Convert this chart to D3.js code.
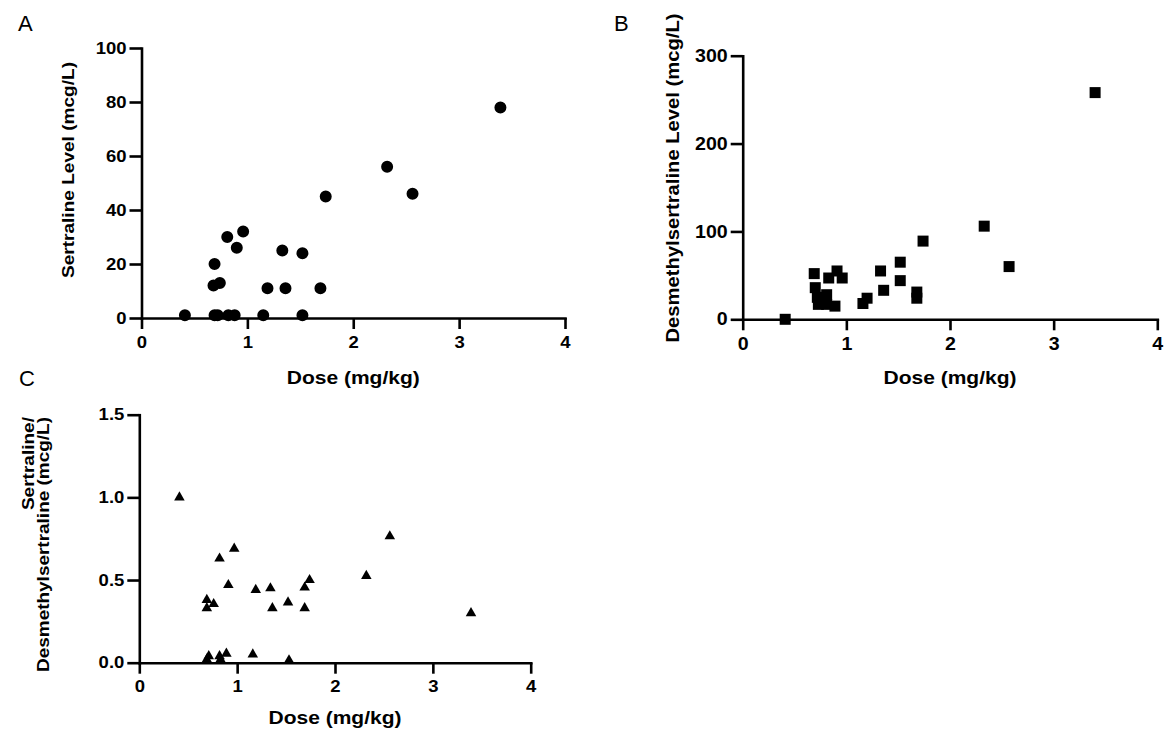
<!DOCTYPE html>
<html>
  <head>
    <title></title>
    <meta charset="utf-8">
    <script src="https://d3js.org/d3.v7.min.js"></script>
    <style>
      body {
        margin: 0;
        background: #fff;
      }
      svg {
        display: block;
        font-family: "Liberation Sans", Arial, sans-serif;
      }
      .axis path, .axis line {
        stroke: #000;
        stroke-width: 2.6px;
      }
      .axis text {
        font-weight: bold;
        fill: #000;
        font-family: "Liberation Sans", Arial, sans-serif;
      }
      .title {
        font-weight: bold;
      }
      .letter {
        font-size: 22px;
      }
    </style>
  </head>
  <body>
    <svg id="chart" width="1167" height="732"></svg>
    <script>
      // panel A - sertraline
      let doseA = [0.41, 0.68, 0.74, 0.69, 0.69, 0.72, 0.81, 0.90, 0.96, 0.82, 0.88, 1.15, 1.19, 1.33, 1.36, 1.52, 1.52, 1.69, 1.74, 2.32, 2.56, 3.39]
      let sertraline = [1, 12, 13, 20, 1, 1, 30, 26, 32, 1, 1, 1, 11, 25, 11, 24, 1, 11, 45, 56, 46, 78]

      // panel B - desmethylsertraline
      let doseB = [0.41, 0.69, 0.91, 0.96, 0.83, 0.70, 0.72, 0.73, 0.81, 0.81, 0.89, 1.16, 1.20, 1.33, 1.36, 1.52, 1.52, 1.68, 1.68, 1.74, 2.33, 2.57, 3.40]
      let desmethyl = [0, 52, 55, 47, 47, 36, 25, 17, 17, 28, 15, 18, 24, 55, 33, 65, 44, 31, 24, 89, 106, 60, 258]

      // panel C - ratio
      let doseC = [0.41, 0.69, 0.69, 0.76, 0.82, 0.97, 0.91, 1.19, 1.34, 1.36, 1.52, 1.69, 1.74, 1.69, 2.32, 2.56, 3.39, 0.71, 0.69, 0.82, 0.83, 0.89, 1.16, 1.53]
      let ratio = [1.0, 0.38, 0.33, 0.355, 0.63, 0.69, 0.47, 0.44, 0.45, 0.33, 0.365, 0.455, 0.50, 0.33, 0.525, 0.765, 0.30, 0.04, 0.02, 0.04, 0.02, 0.055, 0.05, 0.015]

      let doseTicks = [0, 1, 2, 3, 4]
      let ticksA = [0, 20, 40, 60, 80, 100]
      let ticksB = [0, 100, 200, 300]
      let ticksC = [0, 0.5, 1.0, 1.5]

      let svg = d3.select('#chart')

      // the figure's bold text is wider than Liberation, stretch it
      function stretch(sel, k) {
        sel.each(function() {
          let w = this.getComputedTextLength()
          d3.select(this).attr('textLength', w * k).attr('lengthAdjust', 'spacingAndGlyphs')
        })
      }
      function fitTo(sel, len) {
        sel.attr('textLength', len).attr('lengthAdjust', 'spacingAndGlyphs')
      }

      function panel(opt) {
        let x = d3.scaleLinear().domain([0, 4]).range(opt.xr)
        let y = d3.scaleLinear().domain(opt.yd).range(opt.yr)
        let g = svg.append('g')

        g.append('g')
          .attr('class', 'axis')
          .attr('transform', `translate(0,${opt.yr[0]})`)
          .call(d3.axisBottom(x).tickValues(doseTicks).tickSize(11).tickPadding(7).tickSizeOuter(0).tickFormat(d3.format('d')))
        g.append('g')
          .attr('class', 'axis')
          .attr('transform', `translate(${opt.xr[0]},0)`)
          .call(d3.axisLeft(y).tickValues(opt.ticks).tickSize(12).tickPadding(3).tickSizeOuter(0).tickFormat(opt.fmt))

        g.selectAll('.axis text').attr('font-size', opt.fs)
        stretch(g.selectAll('.axis text'), 1.12)
        g.selectAll('.axis path').attr('stroke-linecap', 'square')

        let pts = opt.xs.map((d, i) => [d, opt.ys[i]])
        g.selectAll('.pt')
          .data(pts)
          .join('path')
            .attr('class', 'pt')
            .attr('fill', '#000')
            .attr('transform', d => `translate(${x(d[0])},${y(d[1])})`)
            .attr('d', d3.symbol().type(opt.symbol).size(opt.size))

        g.append('text')
          .attr('class', 'title')
          .attr('font-size', 17.5)
          .attr('text-anchor', 'middle')
          .attr('x', (opt.xr[0] + opt.xr[1]) / 2)
          .attr('y', opt.xtitleY)
          .text('Dose (mg/kg)')
          .call(fitTo, 133)
        return g
      }

      let gA = panel({
        xr: [141.5, 565], yd: [0, 100], yr: [318, 48], ticks: ticksA, fmt: d3.format('d'), fs: 16.5,
        xs: doseA, ys: sertraline, symbol: d3.symbolCircle, size: 113, xtitleY: 384
      })
      gA.append('text')
        .attr('class', 'title')
        .attr('font-size', 17)
        .attr('text-anchor', 'middle')
        .attr('transform', 'translate(74,170) rotate(-90)')
        .text('Sertraline Level (mcg/L)')
        .call(fitTo, 216)

      let gB = panel({
        xr: [742.7, 1157.3], yd: [0, 300], yr: [319.3, 55.7], ticks: ticksB, fmt: d3.format('d'), fs: 17.5,
        xs: doseB, ys: desmethyl, symbol: d3.symbolSquare, size: 121, xtitleY: 384
      })
      gB.append('text')
        .attr('class', 'title')
        .attr('font-size', 17.5)
        .attr('text-anchor', 'middle')
        .attr('transform', 'translate(679,178) rotate(-90)')
        .text('Desmethylsertraline Level (mcg/L)')
        .call(fitTo, 329)

      let gC = panel({
        xr: [139.3, 530.7], yd: [0, 1.5], yr: [662.7, 414.7], ticks: ticksC, fmt: d3.format('.1f'), fs: 16.5,
        xs: doseC, ys: ratio, symbol: d3.symbolTriangle, size: 48, xtitleY: 724
      })
      gC.append('text')
        .attr('class', 'title')
        .attr('font-size', 17)
        .attr('text-anchor', 'end')
        .attr('transform', 'translate(34,417) rotate(-90)')
        .text('Sertraline/')
        .call(stretch, 1.12)
      gC.append('text')
        .attr('class', 'title')
        .attr('font-size', 17)
        .attr('text-anchor', 'end')
        .attr('transform', 'translate(49,417) rotate(-90)')
        .text('Desmethylsertraline (mcg/L)')
        .call(fitTo, 255)

      // panel letters
      svg.append('text').attr('class', 'letter').attr('x', 18).attr('y', 31).text('A')
      svg.append('text').attr('class', 'letter').attr('x', 614).attr('y', 31).text('B')
      svg.append('text').attr('class', 'letter').attr('x', 19).attr('y', 386).text('C')
    </script>
  </body>
</html>
